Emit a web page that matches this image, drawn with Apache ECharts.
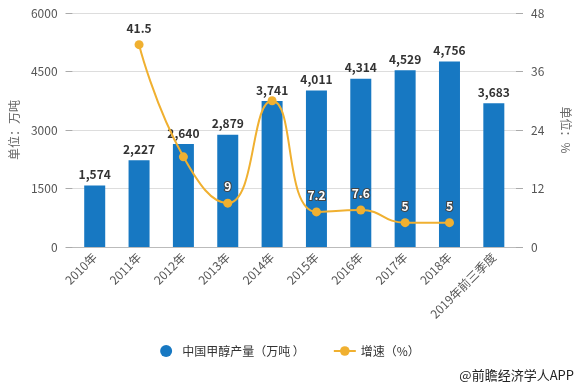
<!DOCTYPE html>
<html><head><meta charset="utf-8">
<script src="https://cdn.jsdelivr.net/npm/echarts@6/dist/echarts.min.js"></script>
<style>html,body{margin:0;padding:0;background:#fff}#c{width:580px;height:388px}</style>
</head><body><div id="c"></div>
<script>
const categories = ['2010年','2011年','2012年','2013年','2014年','2015年','2016年','2017年','2018年','2019年前三季度'];
const production = [1574, 2227, 2640, 2879, 3741, 4011, 4314, 4529, 4756, 3683];
const growth = [null, 41.5, 18.5, 9, 30.0, 7.2, 7.6, 5, 5, null];
const growthLabelShown = [false, true, false, true, false, true, true, true, true, false];
const leftTicks = [0, 1500, 3000, 4500, 6000];
const rightTicks = [0, 12, 24, 36, 48];

const FONT = '"Microsoft YaHei","Noto Sans CJK SC",sans-serif';
const chart = echarts.init(document.getElementById('c'));
const lineData = growth.map((v, i) => ({
  value: v,
  label: {
    show: growthLabelShown[i],
    color: i === 1 ? '#333' : '#fff',
    textBorderColor: i === 1 ? '#fff' : '#444',
    textBorderWidth: i === 1 ? 0 : 2
  }
}));
chart.setOption({
  animation: false,
  textStyle: {fontFamily: FONT},
  grid: {left: 71, right: 59, top: 13, bottom: 141},
  legend: {
    bottom: 26, left: 'center', itemGap: 28, itemWidth: 22, itemHeight: 12,
    textStyle: {color: '#333', fontSize: 12, fontFamily: FONT},
    data: [{name: '中国甲醇产量（万吨 ）', icon: 'circle'}, {name: '增速（%）'}]
  },
  xAxis: {
    type: 'category', data: categories,
    axisLine: {lineStyle: {color: '#bbb'}},
    axisTick: {alignWithLabel: true, length: 5, lineStyle: {color: '#999'}},
    axisLabel: {rotate: 45, color: '#555', fontSize: 12, interval: 0, margin: 8}
  },
  yAxis: [{
    type: 'value', min: leftTicks[0], max: leftTicks[leftTicks.length-1], interval: 1500,
    name: '单位：万吨', nameLocation: 'middle', nameGap: 50, nameRotate: 90,
    nameTextStyle: {color: '#666', fontSize: 12},
    axisLine: {show: false},
    axisTick: {show: true, length: 7, lineStyle: {color: '#aaa'}},
    axisLabel: {color: '#555', fontSize: 12, margin: 15, formatter: v => String(v)},
    splitLine: {lineStyle: {color: '#ddd'}}
  }, {
    type: 'value', min: rightTicks[0], max: rightTicks[rightTicks.length-1], interval: 12,
    name: '单位：%', nameLocation: 'middle', nameGap: 44, nameRotate: -90,
    nameTextStyle: {color: '#666', fontSize: 12},
    axisLine: {show: false},
    axisTick: {show: true, length: 7, lineStyle: {color: '#aaa'}},
    axisLabel: {color: '#555', fontSize: 12, margin: 15, formatter: v => String(v)},
    splitLine: {show: false}
  }],
  series: [{
    name: '中国甲醇产量（万吨 ）', type: 'bar', data: production, barWidth: 21,
    itemStyle: {color: '#1778c2'},
    label: {show: true, position: 'top', color: '#333', fontWeight: 'bold', fontSize: 12,
      formatter: p => p.value.toLocaleString('en-US')}
  }, {
    name: '增速（%）', type: 'line', yAxisIndex: 1, data: lineData, smooth: true,
    symbol: 'circle', symbolSize: 9, connectNulls: false,
    itemStyle: {color: '#f0b030'}, lineStyle: {color: '#f0b030', width: 2},
    label: {show: true, position: 'top', fontWeight: 'bold', fontSize: 12, distance: 6}
  }],
  graphic: [{
    type: 'text', right: 6, bottom: 6,
    style: {text: '@前瞻经济学人APP', fill: '#222', font: '13px ' + FONT}
  }]
});
</script></body></html>
